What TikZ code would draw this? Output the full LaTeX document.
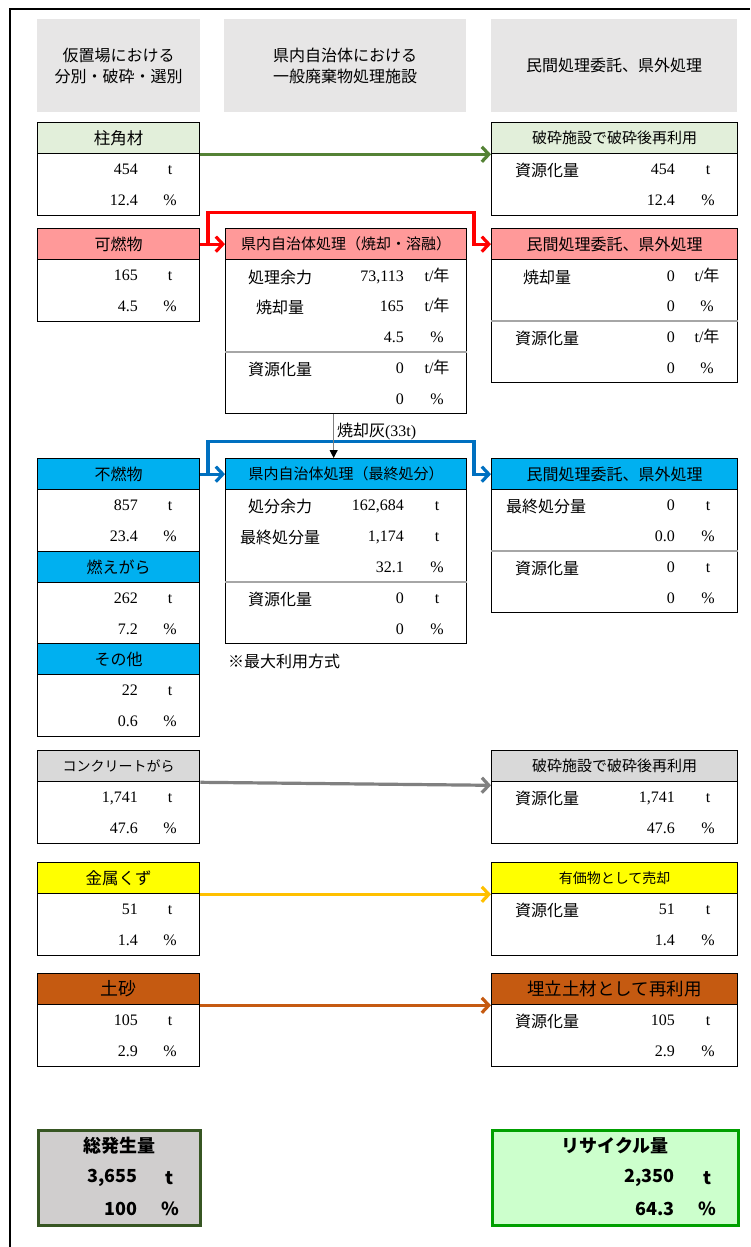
\documentclass[tikz,border=0pt]{standalone}
\usepackage{fontspec}
\setmainfont{Liberation Serif}
\newfontfamily\jp{Noto Sans CJK JP}
\usetikzlibrary{arrows.meta}

\definecolor{hdgray}{HTML}{E7E6E6}
\definecolor{cwood}{HTML}{E2EFDA}
\definecolor{cburn}{HTML}{FF9999}
\definecolor{cblue}{HTML}{00B0F0}
\definecolor{cconc}{HTML}{D9D9D9}
\definecolor{cmetal}{HTML}{FFFF00}
\definecolor{csoil}{HTML}{C55A11}
\definecolor{woodline}{HTML}{548235}
\definecolor{blueline}{HTML}{0070C0}
\definecolor{grayline}{HTML}{808080}
\definecolor{goldline}{HTML}{FFC000}
\definecolor{sepgray}{HTML}{A6A6A6}
\definecolor{totgray}{HTML}{D0CECE}
\definecolor{totedge}{HTML}{375623}
\definecolor{recfill}{HTML}{CCFFCC}
\definecolor{recedge}{HTML}{00A000}

\newcommand\tpy{t/{\jp 年}}

\tikzset{
  cell/.style={draw=black, line width=1.3pt, inner sep=0pt, anchor=north west},
  hdbox/.style={fill=hdgray, minimum height=93pt, inner sep=0pt, anchor=north west, align=center, font=\jp\fontsize{16}{21}\selectfont},
  jtxt/.style={font=\jp\fontsize{#1}{#1}\selectfont, inner sep=0pt},
  jtxt/.default=16,
  numtxt/.style={font=\fontsize{16}{16}\selectfont, inner sep=0pt, anchor=mid east, yshift=-2.5pt},
  unittxt/.style={font=\fontsize{16}{16}\selectfont, inner sep=0pt, anchor=mid, yshift=-2.5pt},
  sepline/.style={draw=sepgray, line width=1.5pt},
  flow/.style={line width=3.2pt, -{Straight Barb[length=7pt,width=15pt]}},
  totl/.style={font=\jp\bfseries\fontsize{18}{18}\selectfont, inner sep=0pt},
  totn/.style={totl, anchor=east},
}

\begin{document}
\begin{tikzpicture}[x=1pt,y=-1pt]
  \useasboundingbox (0,0) rectangle (750,1247);
  \draw[line width=1.3pt] (10,1247) -- (10,9) -- (750,9);

  \node[hdbox, minimum width=163pt] (head1) at (37,19) {仮置場における\\分別・破砕・選別};
  \node[hdbox, minimum width=242pt] (head2) at (224,19) {県内自治体における\\一般廃棄物処理施設};
  \node[hdbox, minimum width=246pt] (head3) at (491,19) {民間処理委託、県外処理};

  \foreach \nm/\yy/\col/\fsz/\ttl/\num/\pct in {wood/122/cwood/16.5/柱角材/454/12.4,
      burn/228/cburn/16/可燃物/165/4.5, noburn/458/cblue/16/不燃物/857/23.4,
      cinder/551/cblue/16/燃えがら/262/7.2, other/643/cblue/16/その他/22/0.6,
      conc/750/cconc/14/コンクリートがら/{1,741}/47.6, metal/862/cmetal/16.5/金属くず/51/1.4,
      soil/973/csoil/18/土砂/105/2.9} {
    \node[cell, fill=\col, minimum width=162pt, minimum height=31pt, font=\jp\fontsize{\fsz}{\fsz}\selectfont] (\nm-h) at (37,\yy) {\ttl};
    \node[cell, minimum width=162pt, minimum height=62pt] (\nm-b) at (37,\yy+31) {};
    \node[numtxt] (\nm-n) at (138,\yy+48) {\num};
    \node[unittxt] (\nm-t) at (170,\yy+48) {t};
    \node[numtxt] (\nm-p) at (138,\yy+79) {\pct};
    \node[unittxt] (\nm-q) at (170,\yy+79) {\%};
  }

  \foreach \nm/\yy/\col/\fsz/\ttl/\num/\pct in {reuse/122/cwood/15/破砕施設で破砕後再利用/454/12.4,
      crush/750/cconc/15/破砕施設で破砕後再利用/{1,741}/47.6, sell/862/cmetal/14/有価物として売却/51/1.4,
      landfill/973/csoil/17.5/埋立土材として再利用/105/2.9} {
    \node[cell, fill=\col, minimum width=246pt, minimum height=31pt, font=\jp\fontsize{\fsz}{\fsz}\selectfont] (\nm-h) at (491,\yy) {\ttl};
    \node[cell, minimum width=246pt, minimum height=62pt] (\nm-b) at (491,\yy+31) {};
    \node[jtxt] (\nm-l) at (547,\yy+48) {資源化量};
    \node[numtxt] (\nm-n) at (675,\yy+48) {\num};
    \node[unittxt] (\nm-t) at (708,\yy+48) {t};
    \node[numtxt] (\nm-p) at (675,\yy+79) {\pct};
    \node[unittxt] (\nm-q) at (708,\yy+79) {\%};
  }

  \node[cell, fill=cburn, minimum width=241pt, minimum height=31pt, jtxt=15] (incin-h) at (225,228) {県内自治体処理（焼却・溶融）};
  \node[cell, minimum width=241pt, minimum height=154pt] (incin-b) at (225,259) {};
  \draw[sepline] (incin-b.west |- 0,352) -- (incin-b.east |- 0,352);
  \node[jtxt] (incin-l1) at (280,277) {処理余力};
  \node[jtxt] (incin-l2) at (280,307) {焼却量};
  \node[jtxt] (incin-l3) at (280,369) {資源化量};
  \foreach \yy/\num/\u [count=\i] in {277/{73,113}/\tpy, 307/165/\tpy, 338/4.5/\%, 369/0/\tpy, 400/0/\%} {
    \node[numtxt] (incin-n\i) at (404,\yy) {\num};
    \node[unittxt] (incin-u\i) at (437,\yy) {\u};
  }

  \node[cell, fill=cblue, minimum width=241pt, minimum height=31pt, jtxt=15] (final-h) at (225,458) {県内自治体処理（最終処分）};
  \node[cell, minimum width=241pt, minimum height=154pt] (final-b) at (225,489) {};
  \draw[sepline] (final-b.west |- 0,582) -- (final-b.east |- 0,582);
  \node[jtxt] (final-l1) at (280,506) {処分余力};
  \node[jtxt] (final-l2) at (280,537) {最終処分量};
  \node[jtxt] (final-l3) at (280,599) {資源化量};
  \foreach \yy/\num/\u [count=\i] in {506/{162,684}/t, 537/{1,174}/t, 568/32.1/\%, 599/0/t, 630/0/\%} {
    \node[numtxt] (final-n\i) at (404,\yy) {\num};
    \node[unittxt] (final-u\i) at (437,\yy) {\u};
  }
  \node[jtxt, anchor=west] (note) at (228,661) {※最大利用方式};

  \node[cell, fill=cburn, minimum width=246pt, minimum height=31pt, jtxt] (priv1-h) at (491,228) {民間処理委託、県外処理};
  \node[cell, minimum width=246pt, minimum height=123pt] (priv1-b) at (491,259) {};
  \draw[sepline] (priv1-b.west |- 0,321) -- (priv1-b.east |- 0,321);
  \node[jtxt] (priv1-l1) at (547,277) {焼却量};
  \node[jtxt] (priv1-l2) at (547,338) {資源化量};
  \foreach \yy/\num/\u [count=\i] in {277/0/\tpy, 307/0/\%, 338/0/\tpy, 369/0/\%} {
    \node[numtxt] (priv1-n\i) at (675,\yy) {\num};
    \node[unittxt] (priv1-u\i) at (707,\yy) {\u};
  }

  \node[cell, fill=cblue, minimum width=246pt, minimum height=31pt, jtxt] (priv2-h) at (491,458) {民間処理委託、県外処理};
  \node[cell, minimum width=246pt, minimum height=123pt] (priv2-b) at (491,489) {};
  \draw[sepline] (priv2-b.west |- 0,551) -- (priv2-b.east |- 0,551);
  \node[jtxt] (priv2-l1) at (546,506) {最終処分量};
  \node[jtxt] (priv2-l2) at (547,568) {資源化量};
  \foreach \yy/\num/\u [count=\i] in {506/0/t, 537/0.0/\%, 568/0/t, 599/0/\%} {
    \node[numtxt] (priv2-n\i) at (675,\yy) {\num};
    \node[unittxt] (priv2-u\i) at (708,\yy) {\u};
  }

  \draw[flow, woodline] (wood-h.south east) -- (reuse-h.south west);
  \draw[flow, red] (burn-h.east) -- (incin-h.west);
  \coordinate (rsplit) at (208,243.5);
  \draw[flow, red] (rsplit) -- ++(0,-31) -| ([xshift=-17pt]priv1-h.west) -- (priv1-h.west);
  \draw[flow, blueline] (noburn-h.east) -- (final-h.west);
  \coordinate (bsplit) at (208,473.5);
  \draw[flow, blueline] (bsplit) -- ++(0,-32) -| ([xshift=-17pt]priv2-h.west) -- (priv2-h.west);
  \draw[grayline, line width=1pt, -{Triangle[length=8pt,width=8pt,color=black]}] ([xshift=-12.5pt]incin-b.south) -- ([xshift=-12.5pt]final-h.north)
    node[pos=0.4, anchor=west, xshift=3pt, jtxt, text=black] (ash) {焼却灰{\rmfamily(33t)}};
  \draw[flow, grayline] (conc-h.south east) -- ([yshift=-3pt]crush-h.south west);
  \draw[flow, goldline] (metal-h.south east) -- (sell-h.south west);
  \draw[flow, csoil] (soil-h.south east) -- (landfill-h.south west);

  \node[cell, draw=totedge, line width=3pt, fill=totgray, minimum width=162pt, minimum height=95pt] (total) at (37,1129) {};
  \node[totl] (total-l) at (119,1146) {総発生量};
  \node[totn] (total-n) at (138,1178) {3,655};
  \node[totl] (total-t) at (170,1178) {t};
  \node[totn] (total-p) at (138,1209) {100};
  \node[totl] (total-q) at (170,1209) {\%};

  \node[cell, draw=recedge, line width=3pt, fill=recfill, minimum width=246pt, minimum height=95pt] (recycle) at (491,1129) {};
  \node[totl] (recycle-l) at (615,1146) {リサイクル量};
  \node[totn] (recycle-n) at (675,1178) {2,350};
  \node[totl] (recycle-t) at (707,1178) {t};
  \node[totn] (recycle-p) at (675,1209) {64.3};
  \node[totl] (recycle-q) at (707,1209) {\%};
\end{tikzpicture}
\end{document}
